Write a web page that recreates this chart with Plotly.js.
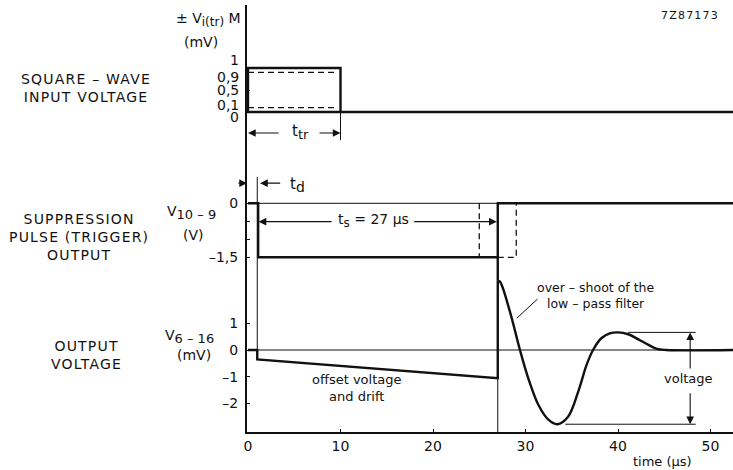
<!DOCTYPE html>
<html>
<head>
<meta charset="utf-8">
<script src="https://cdn.plot.ly/plotly-3.0.1.min.js"></script>
<style>html,body{margin:0;padding:0;background:#fff;}#chart{width:733px;height:470px;}</style>
</head>
<body>
<div id="chart"></div>
<script>
// ---------- DATA ----------
// Square-wave input voltage (mV), time in µs
const inputT = [52.5, 0, 0, 10, 10];
const inputV = [0, 0, 1, 1, 0];
const inputLevels = [0.9, 0.1];          // dashed 90 % / 10 % levels
const inputLevelEnd = 9.7;
const inputTickVals = [1, 0.9, 0.5, 0.1, 0];
const inputTickText = ['1', '0,9', '0,5', '0,1', '0'];
const tTr = 10;                           // transition time

// Suppression pulse (trigger) output (V)
const pulseT = [0, 1.1, 1.1, 27, 27, 52.5];
const pulseV = [0, 0, -1.5, -1.5, 0, 0];
const pulseAltEarly = 25;                 // dashed alternative pulse ends
const pulseAltLate = 29;
const pulseLow = -1.5;
const pulseTickVals = [0, -0.5, -1, -1.5];
const pulseTickText = ['0', '', '', '\u20131,5'];
const tD = 1.0;
const tS = 27;

// Output voltage (mV): offset + drift, then ringing of the low-pass filter
const outDriftT = [0, 1, 1, 27, 27];
const outDriftV = [0, 0, -0.35, -1.06, 2.6];
const outRingT = [27, 27.24, 28.32, 29.4, 30.3, 31.4, 32.5, 33.45, 34.6, 35.7, 36.6, 37.3, 38.2, 39.1, 40.0, 41.1, 42.2, 43.3, 44.2, 45.2, 52.5];
const outRingV = [2.6, 2.56, 1.43, 0, -1.06, -2.06, -2.62, -2.78, -2.50, -1.56, -0.56, 0, 0.44, 0.62, 0.66, 0.59, 0.40, 0.19, 0.04, 0, 0];
const outTickVals = [1, 0, -1, -2];
const outTickText = ['1', '0', '\u20131', '\u20132'];
const outMax = 0.66, outMin = -2.78;
const outMaxLineT = [41.1, 48.4];
const outMinLineT = [34.3, 48.4];
const voltageArrowT = 47.8;

const timeTicks = [0, 10, 20, 30, 40, 50];

// ---------- LAYOUT HELPERS (pixels -> paper) ----------
const L = 247, T = 5, PW = 486, PH = 427;
const px = X => (X - L) / PW;
const py = Y => (T + PH - Y) / PH;

const K = '#111';
const FONT = 'DejaVu Sans, Liberation Sans, sans-serif';

function line(x, y, ya, w, dash, shape) {
  return {x: x, y: y, xaxis: 'x', yaxis: ya, type: 'scatter', mode: 'lines',
          line: {color: K, width: w, dash: dash || 'solid', shape: shape || 'linear', smoothing: 1},
          hoverinfo: 'skip', showlegend: false};
}

const traces = [];
// Panel 1
traces.push(line(inputT, inputV, 'y', 2.4));
inputLevels.forEach(v => traces.push(line([0, inputLevelEnd], [v, v], 'y', 1.3, '6px,4px')));
traces.push(line([tTr, tTr], [0, -0.64], 'y', 1));

// Panel 2
traces.push(line([0, 52.5], [0, 0], 'y2', 1));
traces.push(line(pulseT, pulseV, 'y2', 2.4));
traces.push(line([pulseAltEarly, pulseAltEarly], [0, pulseLow], 'y2', 1.3, '6px,4px'));
traces.push(line([tS, pulseAltLate, pulseAltLate], [pulseLow, pulseLow, 0], 'y2', 1.3, '6px,4px'));
traces.push(line([tD, tD], [0.73, -3], 'y2', 1));
traces.push(line([tS, tS], [pulseLow, -3], 'y2', 2.4));

// Panel 3
traces.push(line([0, 52.5], [0, 0], 'y3', 1));
traces.push(line([tD, tD], [5, 0], 'y3', 1));
traces.push(line([tS, tS], [5, 2.6], 'y3', 2.4));
traces.push(line([tS, tS], [-1.06, -4], 'y3', 1));
traces.push(line(outDriftT, outDriftV, 'y3', 2.4));
traces.push(line(outRingT, outRingV, 'y3', 2.4, 'solid', 'spline'));
traces.push(line(outMaxLineT, [outMax, outMax], 'y3', 1));
traces.push(line(outMinLineT, [outMin, outMin], 'y3', 1));
traces.push(line([29.05, 31.3], [1.19, 1.91], 'y3', 1));

const ann = [];
function txt(text, x, y, xref, yref, size, extra) {
  ann.push(Object.assign({text: text, x: x, y: y, xref: xref, yref: yref, showarrow: false,
    font: {family: FONT, size: size, color: K}, xanchor: 'center', yanchor: 'middle'}, extra || {}));
}
function arrow(x, y, ax, ay, yref, extra) {
  ann.push(Object.assign({text: '', x: x, y: y, ax: ax, ay: ay, xref: 'x', yref: yref,
    axref: 'x', ayref: yref, showarrow: true, arrowhead: 2, arrowsize: 1.4, arrowwidth: 1.1,
    arrowcolor: K, standoff: 0}, extra || {}));
}
const sp = s => '<span style="letter-spacing:1.2px">' + s + '</span>';
const sub = (s, size) => '<sub><span style="font-size:' + size + 'px">' + s + '</span></sub>';

// Panel 1 tick labels (spread apart as in the original)
const inputLabelShift = [8, -5, 0, 3, -5];
inputTickVals.forEach((v, i) => txt(inputTickText[i], 0, v, 'paper', 'y', 14,
  {xanchor: 'right', xshift: -6, yshift: inputLabelShift[i]}));

// Left descriptions
txt(sp('SQUARE \u2013 WAVE') + '<br>' + sp('INPUT VOLTAGE'), px(86), py(88), 'paper', 'paper', 14);
txt(sp('SUPPRESSION') + '<br>' + sp('PULSE (TRIGGER)') + '<br>' + sp('OUTPUT'), px(79), py(237), 'paper', 'paper', 14);
txt(sp('OUTPUT') + '<br>' + sp('VOLTAGE'), px(86), py(355), 'paper', 'paper', 14);

// Unit labels
txt('\u00B1 V' + sub('i(tr)', 12) + ' M', px(243), py(19), 'paper', 'paper', 14, {xanchor: 'right'});
txt('(mV)', px(201), py(42), 'paper', 'paper', 14);
txt('V' + sub('10 \u2013 9', 13), px(191), py(212), 'paper', 'paper', 14);
txt('(V)', px(193), py(235), 'paper', 'paper', 14);
txt('V' + sub('6 \u2013 16', 13), px(189), py(336), 'paper', 'paper', 14);
txt('(mV)', px(194), py(355), 'paper', 'paper', 14);
txt(sp('7Z87173'), px(690), py(15), 'paper', 'paper', 11);
txt('time (\u03BCs)', 44.8, 0, 'x', 'paper', 13, {yanchor: 'top', yshift: -20});

// t_tr
arrow(0, -0.477, 3.46, -0.477, 'y');
arrow(tTr, -0.477, 7.57, -0.477, 'y');
txt('t' + sub('tr', 13), 5.7, -0.46, 'x', 'y', 15);

// t_d
ann.push({text: '', x: 0, y: 0.56, xref: 'x', yref: 'y2', ax: -11, ay: 0, showarrow: true,
  arrowhead: 2, arrowsize: 1.4, arrowwidth: 1.1, arrowcolor: K, standoff: 1});
arrow(1.3, 0.56, 3.64, 0.56, 'y2');
txt('t' + sub('d', 14), 5.3, 0.5, 'x', 'y2', 15);

// t_s
arrow(1.15, -0.51, 9.2, -0.51, 'y2');
arrow(tS, -0.51, 17.8, -0.51, 'y2', {standoff: 1});
txt('t' + sub('s', 12) + ' = 27 \u03BCs', 13.6, -0.49, 'x', 'y2', 14);

// Output annotations
txt('over \u2013 shoot of the<br>low \u2013 pass filter', 37.6, 2.03, 'x', 'y3', 12.5);
txt('offset voltage<br>and drift', 11.7, -1.43, 'x', 'y3', 13);
arrow(voltageArrowT, outMax, voltageArrowT, -0.75, 'y3');
arrow(voltageArrowT, outMin, voltageArrowT, -1.56, 'y3');
txt('voltage', 47.6, -1.05, 'x', 'y3', 13);

const yCommon = {anchor: 'x', showgrid: false, zeroline: false, showline: true, linecolor: K,
  linewidth: 2, ticks: 'inside', ticklen: 3, tickcolor: K, tickwidth: 1,
  tickfont: {family: FONT, size: 14, color: K}, ticklabelstandoff: 4, fixedrange: true};

const layout = {
  width: 733, height: 470,
  margin: {l: L, r: 0, t: T, b: 470 - T - PH},
  paper_bgcolor: '#fff', plot_bgcolor: '#fff',
  showlegend: false,
  xaxis: {range: [-0.108, 52.43], anchor: 'y3', showgrid: false, zeroline: false, showline: true,
    linecolor: K, linewidth: 2, ticks: 'inside', ticklen: 3, tickcolor: K,
    tickvals: timeTicks, ticktext: timeTicks.map(String),
    tickfont: {family: FONT, size: 14, color: K}, ticklabelstandoff: 0},
  yaxis: Object.assign({}, yCommon, {domain: [py(150), 1], range: [-38 / 44, 107 / 44],
    tickvals: [0.5], showticklabels: false}),
  yaxis2: Object.assign({}, yCommon, {domain: [py(270), py(150)], range: [-(270 - 203.3) / 36, (203.3 - 150) / 36],
    tickvals: pulseTickVals, ticktext: pulseTickText}),
  yaxis3: Object.assign({}, yCommon, {domain: [0, py(270)], range: [-82 / 26.7, 80 / 26.7],
    tickvals: outTickVals, ticktext: outTickText}),
  annotations: ann
};

Plotly.newPlot('chart', traces, layout, {staticPlot: true, displayModeBar: false});
</script>
</body>
</html>
